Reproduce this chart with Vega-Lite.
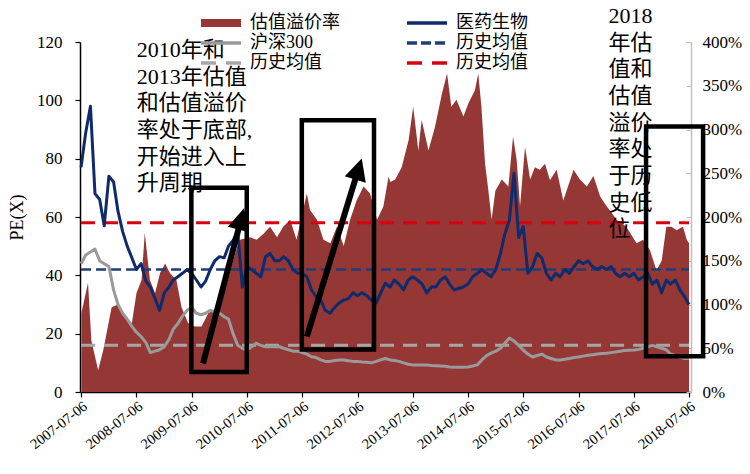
{
  "$schema": "https://vega.github.io/schema/vega-lite/v6.json",
  "width": 611,
  "height": 350,
  "autosize": "none",
  "padding": {"left": 80, "top": 42, "right": 59, "bottom": 82},
  "background": "white",
  "config": {"view": {"stroke": null}, "axis": {"grid": false}},
  "datasets": {
    "premium": [
      {"date": "2007-07-08", "rate": 90}, {"date": "2007-08-21", "rate": 125}, {"date": "2007-09-12", "rate": 59},
      {"date": "2007-10-27", "rate": 25}, {"date": "2007-11-30", "rate": 48}, {"date": "2008-01-24", "rate": 97},
      {"date": "2008-03-06", "rate": 100}, {"date": "2008-04-21", "rate": 86}, {"date": "2008-06-06", "rate": 79},
      {"date": "2008-07-06", "rate": 113}, {"date": "2008-08-09", "rate": 128}, {"date": "2008-08-30", "rate": 182},
      {"date": "2008-10-03", "rate": 128}, {"date": "2008-11-06", "rate": 113}, {"date": "2008-12-09", "rate": 136},
      {"date": "2009-01-12", "rate": 147}, {"date": "2009-02-12", "rate": 136}, {"date": "2009-03-27", "rate": 128},
      {"date": "2009-04-30", "rate": 97}, {"date": "2009-06-12", "rate": 79}, {"date": "2009-07-27", "rate": 75},
      {"date": "2009-09-09", "rate": 75}, {"date": "2009-10-24", "rate": 90}, {"date": "2009-12-27", "rate": 97},
      {"date": "2010-03-03", "rate": 128}, {"date": "2010-04-18", "rate": 158}, {"date": "2010-05-21", "rate": 174},
      {"date": "2010-07-27", "rate": 177}, {"date": "2010-09-09", "rate": 174}, {"date": "2010-10-24", "rate": 181},
      {"date": "2010-12-06", "rate": 189}, {"date": "2011-01-21", "rate": 177}, {"date": "2011-03-03", "rate": 189},
      {"date": "2011-04-18", "rate": 197}, {"date": "2011-05-30", "rate": 174}, {"date": "2011-08-06", "rate": 227},
      {"date": "2011-08-27", "rate": 208}, {"date": "2011-10-12", "rate": 197}, {"date": "2011-11-24", "rate": 174},
      {"date": "2012-01-09", "rate": 170}, {"date": "2012-02-21", "rate": 189}, {"date": "2012-04-06", "rate": 167},
      {"date": "2012-05-18", "rate": 197}, {"date": "2012-06-30", "rate": 219}, {"date": "2012-08-15", "rate": 235},
      {"date": "2012-09-27", "rate": 227}, {"date": "2012-11-12", "rate": 197}, {"date": "2012-12-24", "rate": 212},
      {"date": "2013-01-27", "rate": 246}, {"date": "2013-02-09", "rate": 240}, {"date": "2013-03-12", "rate": 243},
      {"date": "2013-04-24", "rate": 257}, {"date": "2013-06-09", "rate": 288}, {"date": "2013-07-09", "rate": 326},
      {"date": "2013-08-12", "rate": 276}, {"date": "2013-09-03", "rate": 311}, {"date": "2013-10-18", "rate": 276},
      {"date": "2013-11-30", "rate": 303}, {"date": "2014-01-15", "rate": 341}, {"date": "2014-02-18", "rate": 364},
      {"date": "2014-03-18", "rate": 326}, {"date": "2014-04-21", "rate": 334}, {"date": "2014-06-06", "rate": 315},
      {"date": "2014-07-09", "rate": 330}, {"date": "2014-08-21", "rate": 345}, {"date": "2014-09-12", "rate": 364},
      {"date": "2014-10-03", "rate": 326}, {"date": "2014-10-27", "rate": 261}, {"date": "2014-11-18", "rate": 230},
      {"date": "2014-12-09", "rate": 197}, {"date": "2015-01-03", "rate": 230}, {"date": "2015-02-15", "rate": 243},
      {"date": "2015-03-30", "rate": 235}, {"date": "2015-04-30", "rate": 292}, {"date": "2015-05-24", "rate": 265},
      {"date": "2015-06-15", "rate": 212}, {"date": "2015-07-18", "rate": 280}, {"date": "2015-08-21", "rate": 243},
      {"date": "2015-09-21", "rate": 257}, {"date": "2015-10-24", "rate": 254}, {"date": "2015-11-27", "rate": 261},
      {"date": "2015-12-30", "rate": 242}, {"date": "2016-02-12", "rate": 254}, {"date": "2016-03-27", "rate": 219},
      {"date": "2016-06-03", "rate": 254}, {"date": "2016-07-15", "rate": 243}, {"date": "2016-08-30", "rate": 235},
      {"date": "2016-10-12", "rate": 247}, {"date": "2016-11-27", "rate": 223}, {"date": "2017-01-09", "rate": 212},
      {"date": "2017-03-15", "rate": 197}, {"date": "2017-05-18", "rate": 189}, {"date": "2017-07-24", "rate": 170},
      {"date": "2017-09-06", "rate": 174}, {"date": "2017-10-21", "rate": 162}, {"date": "2017-12-03", "rate": 139},
      {"date": "2018-01-06", "rate": 150}, {"date": "2018-02-06", "rate": 189}, {"date": "2018-03-12", "rate": 189},
      {"date": "2018-04-15", "rate": 185}, {"date": "2018-05-27", "rate": 189}, {"date": "2018-06-21", "rate": 174},
      {"date": "2018-07-06", "rate": 170}
    ],
    "pe": [
      {"date": "2007-07-06", "pharma": 77, "csi": 44}, {"date": "2007-08-06", "pharma": 89, "csi": 47},
      {"date": "2007-09-06", "pharma": 98, "csi": 48}, {"date": "2007-10-06", "pharma": 68, "csi": 49},
      {"date": "2007-11-06", "pharma": 66, "csi": 45}, {"date": "2007-12-06", "pharma": 57, "csi": 44},
      {"date": "2008-01-06", "pharma": 74, "csi": 43}, {"date": "2008-02-06", "pharma": 72, "csi": 35},
      {"date": "2008-03-06", "pharma": 62, "csi": 30}, {"date": "2008-04-06", "pharma": 55, "csi": 27},
      {"date": "2008-05-06", "pharma": 50, "csi": 25}, {"date": "2008-06-06", "pharma": 46, "csi": 22.5},
      {"date": "2008-07-06", "pharma": 42, "csi": 20.5}, {"date": "2008-08-06", "pharma": 44, "csi": 19},
      {"date": "2008-09-06", "pharma": 38, "csi": 17}, {"date": "2008-10-06", "pharma": 36, "csi": 13.5},
      {"date": "2008-11-06", "pharma": 32, "csi": 14}, {"date": "2008-12-06", "pharma": 28, "csi": 14.5},
      {"date": "2009-01-06", "pharma": 34, "csi": 15.5}, {"date": "2009-02-06", "pharma": 36, "csi": 18},
      {"date": "2009-03-06", "pharma": 38.4, "csi": 21.5}, {"date": "2009-04-06", "pharma": 39.5, "csi": 23.5},
      {"date": "2009-05-06", "pharma": 40.7, "csi": 26}, {"date": "2009-06-06", "pharma": 42, "csi": 28},
      {"date": "2009-07-06", "pharma": 40.7, "csi": 29}, {"date": "2009-08-06", "pharma": 38.4, "csi": 27},
      {"date": "2009-09-06", "pharma": 36, "csi": 26.5}, {"date": "2009-10-06", "pharma": 38, "csi": 27},
      {"date": "2009-11-06", "pharma": 42, "csi": 28}, {"date": "2009-12-06", "pharma": 45, "csi": 27.5},
      {"date": "2010-01-06", "pharma": 46.4, "csi": 27}, {"date": "2010-02-06", "pharma": 46, "csi": 25.8},
      {"date": "2010-03-06", "pharma": 50, "csi": 25}, {"date": "2010-04-06", "pharma": 52, "csi": 20},
      {"date": "2010-05-06", "pharma": 55, "csi": 16}, {"date": "2010-06-06", "pharma": 36, "csi": 15},
      {"date": "2010-07-06", "pharma": 43, "csi": 14.4}, {"date": "2010-08-06", "pharma": 42, "csi": 15.5},
      {"date": "2010-09-06", "pharma": 40.7, "csi": 16.7}, {"date": "2010-10-06", "pharma": 39.5, "csi": 16},
      {"date": "2010-11-06", "pharma": 46.4, "csi": 15.5}, {"date": "2010-12-06", "pharma": 47.5, "csi": 15.5},
      {"date": "2011-01-06", "pharma": 45, "csi": 15.5}, {"date": "2011-02-06", "pharma": 45, "csi": 15.5},
      {"date": "2011-03-06", "pharma": 46.4, "csi": 15}, {"date": "2011-04-06", "pharma": 45, "csi": 14.5},
      {"date": "2011-05-06", "pharma": 42, "csi": 14}, {"date": "2011-06-06", "pharma": 40.7, "csi": 14},
      {"date": "2011-07-06", "pharma": 40.7, "csi": 13.5}, {"date": "2011-08-06", "pharma": 39.5, "csi": 13},
      {"date": "2011-09-06", "pharma": 35, "csi": 12.1}, {"date": "2011-10-06", "pharma": 32.7, "csi": 11.8},
      {"date": "2011-11-06", "pharma": 31.5, "csi": 11}, {"date": "2011-12-06", "pharma": 28, "csi": 10.5},
      {"date": "2012-01-06", "pharma": 27, "csi": 10.5}, {"date": "2012-02-06", "pharma": 29, "csi": 10.8},
      {"date": "2012-03-06", "pharma": 30.5, "csi": 11}, {"date": "2012-04-06", "pharma": 31.5, "csi": 11},
      {"date": "2012-05-06", "pharma": 32, "csi": 10.7}, {"date": "2012-06-06", "pharma": 34, "csi": 10.5},
      {"date": "2012-07-06", "pharma": 33, "csi": 10.5}, {"date": "2012-08-06", "pharma": 34, "csi": 10.3},
      {"date": "2012-09-06", "pharma": 33, "csi": 10.2}, {"date": "2012-10-06", "pharma": 31.5, "csi": 10},
      {"date": "2012-11-06", "pharma": 30.5, "csi": 10.5}, {"date": "2012-12-06", "pharma": 34, "csi": 11},
      {"date": "2013-01-06", "pharma": 37.3, "csi": 11.5}, {"date": "2013-02-06", "pharma": 36, "csi": 11},
      {"date": "2013-03-06", "pharma": 38.4, "csi": 10.8}, {"date": "2013-04-06", "pharma": 37, "csi": 10.5},
      {"date": "2013-05-06", "pharma": 35, "csi": 10}, {"date": "2013-06-06", "pharma": 38.4, "csi": 9.5},
      {"date": "2013-07-06", "pharma": 39.5, "csi": 9.3}, {"date": "2013-08-06", "pharma": 38.4, "csi": 9.3},
      {"date": "2013-09-06", "pharma": 37, "csi": 9.3}, {"date": "2013-10-06", "pharma": 34, "csi": 9.3},
      {"date": "2013-11-06", "pharma": 36, "csi": 9.1}, {"date": "2013-12-06", "pharma": 36, "csi": 9},
      {"date": "2014-01-06", "pharma": 38.4, "csi": 8.9}, {"date": "2014-02-06", "pharma": 39.5, "csi": 8.8},
      {"date": "2014-03-06", "pharma": 37, "csi": 8.6}, {"date": "2014-04-06", "pharma": 35, "csi": 8.5},
      {"date": "2014-05-06", "pharma": 35.5, "csi": 8.5}, {"date": "2014-06-06", "pharma": 36, "csi": 8.5},
      {"date": "2014-07-06", "pharma": 37, "csi": 8.6}, {"date": "2014-08-06", "pharma": 39.5, "csi": 8.9},
      {"date": "2014-09-06", "pharma": 40.7, "csi": 9.3}, {"date": "2014-10-06", "pharma": 42, "csi": 11},
      {"date": "2014-11-06", "pharma": 40.7, "csi": 12.5}, {"date": "2014-12-06", "pharma": 39.5, "csi": 13.3},
      {"date": "2015-01-06", "pharma": 42, "csi": 14}, {"date": "2015-02-06", "pharma": 47.5, "csi": 15},
      {"date": "2015-03-06", "pharma": 54, "csi": 16.7}, {"date": "2015-04-06", "pharma": 59, "csi": 18.5},
      {"date": "2015-05-06", "pharma": 75, "csi": 17.5}, {"date": "2015-06-06", "pharma": 53, "csi": 16},
      {"date": "2015-07-06", "pharma": 56.7, "csi": 14.4}, {"date": "2015-08-06", "pharma": 40.7, "csi": 13},
      {"date": "2015-09-06", "pharma": 43, "csi": 12}, {"date": "2015-10-06", "pharma": 47.5, "csi": 12.5},
      {"date": "2015-11-06", "pharma": 46, "csi": 13}, {"date": "2015-12-06", "pharma": 40.7, "csi": 12},
      {"date": "2016-01-06", "pharma": 38.4, "csi": 11.5}, {"date": "2016-02-06", "pharma": 40.7, "csi": 11},
      {"date": "2016-03-06", "pharma": 39.5, "csi": 11}, {"date": "2016-04-06", "pharma": 42, "csi": 11.2},
      {"date": "2016-05-06", "pharma": 40.7, "csi": 11.5}, {"date": "2016-06-06", "pharma": 43, "csi": 11.8},
      {"date": "2016-07-06", "pharma": 45, "csi": 12}, {"date": "2016-08-06", "pharma": 44, "csi": 12.3},
      {"date": "2016-09-06", "pharma": 45, "csi": 12.6}, {"date": "2016-10-06", "pharma": 43, "csi": 12.8},
      {"date": "2016-11-06", "pharma": 42, "csi": 13}, {"date": "2016-12-06", "pharma": 43, "csi": 13.2},
      {"date": "2017-01-06", "pharma": 42, "csi": 13.3}, {"date": "2017-02-06", "pharma": 43, "csi": 13.5},
      {"date": "2017-03-06", "pharma": 40.7, "csi": 13.7}, {"date": "2017-04-06", "pharma": 39.5, "csi": 14},
      {"date": "2017-05-06", "pharma": 40.7, "csi": 14.2}, {"date": "2017-06-06", "pharma": 39.5, "csi": 14.3},
      {"date": "2017-07-06", "pharma": 40.7, "csi": 14.4}, {"date": "2017-08-06", "pharma": 38.4, "csi": 14.6},
      {"date": "2017-09-06", "pharma": 39.5, "csi": 15}, {"date": "2017-10-06", "pharma": 40.7, "csi": 15.5},
      {"date": "2017-11-06", "pharma": 37, "csi": 16}, {"date": "2017-12-06", "pharma": 38.4, "csi": 15.5},
      {"date": "2018-01-06", "pharma": 34, "csi": 15}, {"date": "2018-02-06", "pharma": 38.4, "csi": 14.5},
      {"date": "2018-03-06", "pharma": 37, "csi": 13}, {"date": "2018-04-06", "pharma": 38.4, "csi": 12.5},
      {"date": "2018-05-06", "pharma": 35, "csi": 12}, {"date": "2018-06-06", "pharma": 32.7, "csi": 11.5},
      {"date": "2018-07-06", "pharma": 30, "csi": 11.5}
    ],
    "averages": [
      {"series": "pharmaAvg", "level": 42, "start": "2007-07-06", "end": "2018-07-06"},
      {"series": "csiAvg", "level": 16, "start": "2007-07-06", "end": "2018-07-06"},
      {"series": "premAvg", "level": 193.5, "start": "2007-07-06", "end": "2018-07-06"}
    ],
    "boxes": [
      {"start": "2009-07-04", "end": "2010-07-05", "top": 70, "bottom": 6.9},
      {"start": "2011-07-04", "end": "2012-10-23", "top": 93.2, "bottom": 14.6},
      {"start": "2017-09-25", "end": "2018-10-07", "top": 91, "bottom": 12.3}
    ],
    "arrows": [
      {"id": 1, "from": "2009-09-19", "fromPe": 9.8, "to": "2010-05-23", "toPe": 58.1},
      {"id": 2, "from": "2011-08-06", "fromPe": 19.0, "to": "2012-07-05", "toPe": 75.2}
    ],
    "notes": [
      {"date": "2008-07-08", "pe": 120.7, "lines": ["2010年和", "2013年估值", "和估值溢价", "率处于底部,", "开始进入上", "升周期"]},
      {"date": "2017-01-19", "pe": 132.4, "lines": ["2018", "年估", "值和", "估值", "溢价", "率处", "于历", "史低", "位"]}
    ]
  },
  "layer": [
    {
      "layer": [
        {
          "data": {"name": "premium"},
          "mark": {"type": "area", "interpolate": "linear"},
          "encoding": {
            "x": {
              "field": "date", "type": "temporal", "title": null,
              "scale": {"type": "utc", "domain": [{"year": 2007, "month": 6, "date": 29, "utc": true}, {"year": 2018, "month": 7, "date": 19, "utc": true}]},
              "axis": {
                "orient": "bottom", "title": null, "format": "%Y-%m-%d",
                "values": [
                  {"year": 2007, "month": 7, "date": 6, "utc": true}, {"year": 2008, "month": 1, "date": 6, "utc": true},
                  {"year": 2008, "month": 7, "date": 6, "utc": true}, {"year": 2009, "month": 1, "date": 6, "utc": true},
                  {"year": 2009, "month": 7, "date": 6, "utc": true}, {"year": 2010, "month": 1, "date": 6, "utc": true},
                  {"year": 2010, "month": 7, "date": 6, "utc": true}, {"year": 2011, "month": 1, "date": 6, "utc": true},
                  {"year": 2011, "month": 7, "date": 6, "utc": true}, {"year": 2012, "month": 1, "date": 6, "utc": true},
                  {"year": 2012, "month": 7, "date": 6, "utc": true}, {"year": 2013, "month": 1, "date": 6, "utc": true},
                  {"year": 2013, "month": 7, "date": 6, "utc": true}, {"year": 2014, "month": 1, "date": 6, "utc": true},
                  {"year": 2014, "month": 7, "date": 6, "utc": true}, {"year": 2015, "month": 1, "date": 6, "utc": true},
                  {"year": 2015, "month": 7, "date": 6, "utc": true}, {"year": 2016, "month": 1, "date": 6, "utc": true},
                  {"year": 2016, "month": 7, "date": 6, "utc": true}, {"year": 2017, "month": 1, "date": 6, "utc": true},
                  {"year": 2017, "month": 7, "date": 6, "utc": true}, {"year": 2018, "month": 1, "date": 6, "utc": true},
                  {"year": 2018, "month": 7, "date": 6, "utc": true}
                ],
                "labelAngle": -38, "labelFont": "Liberation Serif", "labelFontSize": 14.5, "labelColor": "black",
                "labelOverlap": false, "labelBound": false, "labelFlush": false, "labelPadding": 2,
                "domainColor": "black", "domainWidth": 1.5, "tickColor": "black", "tickSize": 5, "tickWidth": 1.2
              }
            },
            "y": {
              "field": "rate", "type": "quantitative", "title": null,
              "scale": {"domain": [0, 400], "nice": false, "zero": true},
              "axis": {
                "orient": "right", "title": null, "values": [0, 50, 100, 150, 200, 250, 300, 350, 400],
                "labelExpr": "datum.value + '%'", "labelFont": "Liberation Serif", "labelFontSize": 17, "labelColor": "black",
                "domainColor": "#bfbfbf", "domainWidth": 1.5, "tickColor": "#bfbfbf", "tickSize": -5, "labelPadding": 16
              }
            },
            "color": {
              "datum": "premium", "type": "nominal",
              "scale": {
                "domain": ["premium", "csi", "csiAvg", "pharma", "pharmaAvg", "premAvg"],
                "range": ["#953735", "#9a9a9a", "#a6a6a6", "#0f2b6b", "#1f3d7a", "#d7000f"]
              },
              "legend": {
                "orient": "none", "legendX": 132, "legendY": -28, "columns": 2, "columnPadding": 60, "rowPadding": 2,
                "title": null, "labelFont": "Liberation Serif, Noto Sans CJK SC", "labelFontSize": 18, "labelColor": "black",
                "symbolSize": 100, "labelOffset": 20, "symbolOffset": 0,
                "labelExpr": "datum.value === 'premium' ? '估值溢价率' : datum.value === 'pharma' ? '医药生物' : datum.value === 'csi' ? '沪深300' : '历史均值'",
                "encode": {
                  "symbols": {
                    "update": {
                      "shape": {"signal": "datum.value === 'premium' ? 'M-4,-0.8H4V0.8H-4Z' : 'M-4,0H4'"},
                      "fill": {"signal": "datum.value === 'premium' ? '#953735' : 'transparent'"},
                      "stroke": {"signal": "datum.value === 'premium' ? 'transparent' : datum.value === 'pharma' ? '#0f2b6b' : datum.value === 'csi' ? '#9a9a9a' : datum.value === 'pharmaAvg' ? '#1f3d7a' : datum.value === 'csiAvg' ? '#a6a6a6' : '#d7000f'"},
                      "strokeDash": {"signal": "datum.value === 'pharmaAvg' ? [10, 4] : (datum.value === 'csiAvg' || datum.value === 'premAvg') ? [15, 10] : [1, 0]"},
                      "strokeWidth": {"signal": "datum.value === 'premium' ? 0 : 3.5"},
                      "opacity": {"value": 1}
                    }
                  }
                }
              }
            }
          }
        },
        {
          "data": {"name": "averages"},
          "transform": [{"filter": "datum.series === 'premAvg'"}],
          "mark": {"type": "rule", "strokeWidth": 3, "strokeDash": [14, 9]},
          "encoding": {
            "x": {"field": "start", "type": "temporal", "title": null},
            "x2": {"field": "end"},
            "y": {"field": "level", "type": "quantitative", "title": null},
            "color": {"datum": "premAvg", "type": "nominal"}
          }
        }
      ]
    },
    {
      "layer": [
        {
          "data": {"name": "averages"},
          "transform": [{"filter": "datum.series === 'csiAvg'"}],
          "mark": {"type": "rule", "strokeWidth": 3, "strokeDash": [14, 9]},
          "encoding": {
            "x": {"field": "start", "type": "temporal", "title": null},
            "x2": {"field": "end"},
            "y": {
              "field": "level", "type": "quantitative", "title": "PE(X)",
              "scale": {"domain": [0, 120], "nice": false},
              "axis": {
                "orient": "left", "title": "PE(X)", "values": [0, 20, 40, 60, 80, 100, 120],
                "labelFont": "Liberation Serif", "labelFontSize": 17, "labelColor": "black", "labelPadding": 13,
                "domainColor": "black", "domainWidth": 1.5, "tickColor": "black", "tickSize": 5, "tickWidth": 1.2,
                "titleFont": "Liberation Serif", "titleFontSize": 18, "titleFontWeight": "normal", "titleColor": "black", "titlePadding": 10
              }
            },
            "color": {"datum": "csiAvg", "type": "nominal"}
          }
        },
        {
          "data": {"name": "averages"},
          "transform": [{"filter": "datum.series === 'pharmaAvg'"}],
          "mark": {"type": "rule", "strokeWidth": 2.6, "strokeDash": [10, 5]},
          "encoding": {
            "x": {"field": "start", "type": "temporal", "title": null},
            "x2": {"field": "end"},
            "y": {"field": "level", "type": "quantitative", "title": "PE(X)"},
            "color": {"datum": "pharmaAvg", "type": "nominal"}
          }
        },
        {
          "data": {"name": "pe"},
          "mark": {"type": "line", "strokeWidth": 3, "strokeJoin": "round"},
          "encoding": {
            "x": {"field": "date", "type": "temporal", "title": null},
            "y": {"field": "csi", "type": "quantitative", "title": "PE(X)"},
            "color": {"datum": "csi", "type": "nominal"}
          }
        },
        {
          "data": {"name": "pe"},
          "mark": {"type": "line", "strokeWidth": 3, "strokeJoin": "round"},
          "encoding": {
            "x": {"field": "date", "type": "temporal", "title": null},
            "y": {"field": "pharma", "type": "quantitative", "title": "PE(X)"},
            "color": {"datum": "pharma", "type": "nominal"}
          }
        },
        {
          "data": {"name": "boxes"},
          "mark": {"type": "rect", "fillOpacity": 0, "stroke": "black", "strokeWidth": 4.5},
          "encoding": {
            "x": {"field": "start", "type": "temporal", "title": null},
            "x2": {"field": "end"},
            "y": {"field": "top", "type": "quantitative", "title": "PE(X)"},
            "y2": {"field": "bottom"}
          }
        },
        {
          "data": {"name": "arrows"},
          "mark": {"type": "rule", "strokeWidth": 6, "color": "black", "strokeCap": "butt"},
          "encoding": {
            "x": {"field": "from", "type": "temporal", "title": null},
            "x2": {"field": "to"},
            "y": {"field": "fromPe", "type": "quantitative", "title": "PE(X)"},
            "y2": {"field": "toPe"}
          }
        },
        {
          "data": {"name": "arrows"},
          "transform": [{"filter": "datum.id === 1"}],
          "mark": {"type": "point", "shape": "M0,-1.35L-1,0.65L1,0.65Z", "size": 484, "filled": true, "color": "black", "opacity": 1, "angle": 14.8},
          "encoding": {
            "x": {"field": "to", "type": "temporal", "title": null},
            "y": {"field": "toPe", "type": "quantitative", "title": "PE(X)"}
          }
        },
        {
          "data": {"name": "arrows"},
          "transform": [{"filter": "datum.id === 2"}],
          "mark": {"type": "point", "shape": "M0,-1.35L-1,0.65L1,0.65Z", "size": 484, "filled": true, "color": "black", "opacity": 1, "angle": 17.2},
          "encoding": {
            "x": {"field": "to", "type": "temporal", "title": null},
            "y": {"field": "toPe", "type": "quantitative", "title": "PE(X)"}
          }
        },
        {
          "data": {"name": "notes"},
          "mark": {"type": "text", "align": "left", "baseline": "top", "font": "Liberation Serif, Noto Sans CJK SC", "fontSize": 22, "lineHeight": 26.7, "color": "black"},
          "encoding": {
            "x": {"field": "date", "type": "temporal", "title": null},
            "y": {"field": "pe", "type": "quantitative", "title": "PE(X)"},
            "text": {"field": "lines"}
          }
        }
      ]
    }
  ],
  "resolve": {"scale": {"y": "independent"}}
}
